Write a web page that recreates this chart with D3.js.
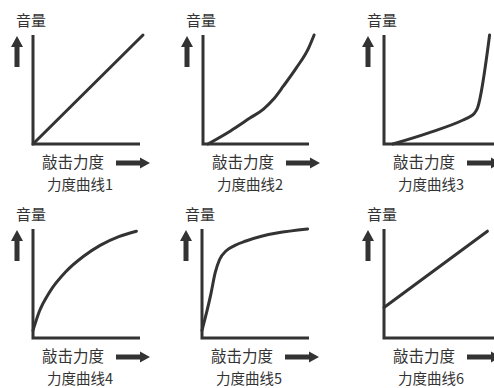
<!DOCTYPE html>
<html><head><meta charset="utf-8">
<script src="https://cdn.jsdelivr.net/npm/d3@7"></script>
<style>html,body{margin:0;padding:0;background:#fff}svg{display:block}</style>
</head><body>
<script>
// ---- data (normalized: x = 敲击力度 0..100, y = 音量 0..100) ----
const titles = ["力度曲线1","力度曲线2","力度曲线3","力度曲线4","力度曲线5","力度曲线6"];
const xLabel = "敲击力度";
const yLabel = "音量";
const curve1 = [[0,0],[100,100]];
const curve2 = [[4.5,0],[25,12],[43,24],[55,32],[64,41],[73,53],[85,70],[96,88],[101,100]];
const curve3 = [[8,0],[40,10],[72,22],[78,25],[82,28],[85,33],[96,100]];
const curve4 = [[0,7],[6,25],[15,42],[30,61],[46,75],[61,85],[78,93],[94,98]];
const curve5 = [[0,7],[8,40],[12,60],[16,72],[22,80],[30,85],[40,89],[96,100]];
const curve6 = [[0,28],[94,98]];
const curves = [curve1,curve2,curve3,curve4,curve5,curve6];
const smooth = [false,true,true,true,true,false];

// ---- layout ----
const W = 494, H = 388, ink = "#333";
const origins = [[33,144],[203,144],[384,144],[33,338],[202,338],[384,338]];
const axisLen = [107,106,112,107,107,112];

const svg = d3.select("body").append("svg").attr("width",W).attr("height",H);

curves.forEach((data,i)=>{
  const [ox,oy] = origins[i];
  const x = d3.scaleLinear().domain([0,100]).range([ox, ox+110]);
  const y = d3.scaleLinear().domain([0,100]).range([oy, oy-109]);
  const g = svg.append("g");
  // axes
  g.append("path").attr("d",`M${ox},${oy-109}V${oy}H${ox+axisLen[i]}`)
    .attr("fill","none").attr("stroke",ink).attr("stroke-width",3).attr("stroke-linejoin","miter");
  // curve
  const line = d3.line().x(d=>x(d[0])).y(d=>y(d[1]))
    .curve(smooth[i] ? d3.curveMonotoneX : d3.curveLinear);
  g.append("path").datum(data).attr("d",line)
    .attr("fill","none").attr("stroke",ink).attr("stroke-width",3).attr("stroke-linecap","round");
  // up arrow
  const ax = ox-16, tip = oy-108;
  g.append("path").attr("d",`M${ax},${tip}L${ax+6},${tip+11}H${ax+2.5}V${tip+31}H${ax-2.5}V${tip+11}H${ax-6}Z`).attr("fill",ink);
  // right arrow
  const ry = oy+19, rx0 = ox+83, rx1 = ox+117;
  g.append("path").attr("d",`M${rx1},${ry}L${rx1-10},${ry-5.5}V${ry-2.5}H${rx0}V${ry+2.5}H${rx1-10}V${ry+5.5}Z`).attr("fill",ink);
  // texts
  const font = "'Noto Sans CJK SC','Noto Sans',sans-serif";
  g.append("text").attr("x",ox-17).attr("y",oy-123).attr("dy","0.35em")
    .attr("font-family",font).attr("font-size",15).attr("fill",ink).text(yLabel);
  g.append("text").attr("x",ox+9).attr("y",oy+19).attr("dy","0.35em")
    .attr("font-family",font).attr("font-size",15.5).attr("fill",ink).text(xLabel);
  g.append("text").attr("x",ox+47).attr("y",oy+41).attr("dy","0.35em").attr("text-anchor","middle")
    .attr("font-family",font).attr("font-size",14.5).attr("fill",ink).text(titles[i]);
});
</script>
</body></html>
